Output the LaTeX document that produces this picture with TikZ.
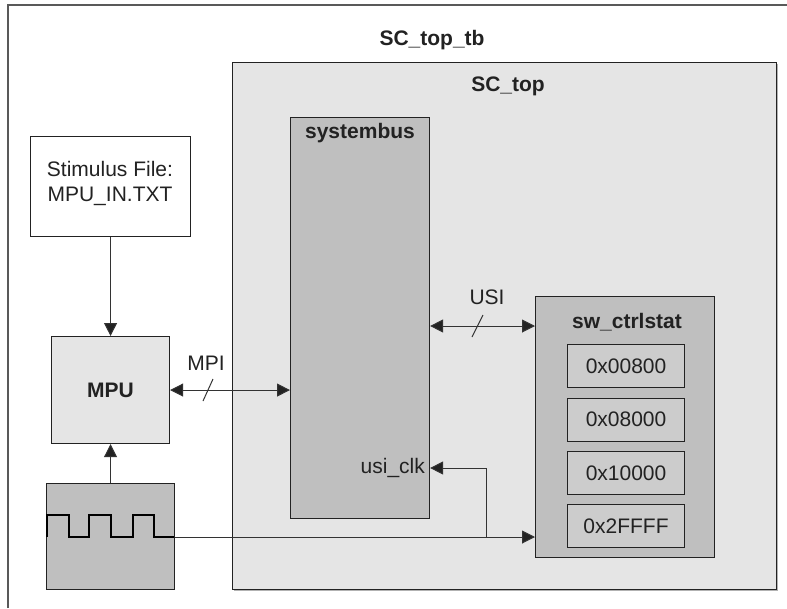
\documentclass[tikz,border=0pt]{standalone}
\usepackage{fontspec}
\setmainfont{Liberation Sans}
\usetikzlibrary{arrows.meta}
\definecolor{lightfill}{HTML}{E5E5E5}
\definecolor{midfill}{HTML}{BFBFBF}
\definecolor{regfill}{HTML}{CCCCCC}
\definecolor{ink}{HTML}{222222}
\definecolor{linec}{HTML}{333333}
\tikzset{
  box/.style={draw=ink, line width=1.1pt, inner sep=0pt, anchor=north west},
  lbl/.style={text=ink, font=\fontsize{21}{25}\selectfont, inner sep=0pt},
  blbl/.style={text=ink, font=\fontsize{21}{25}\selectfont\bfseries, inner sep=0pt},
  conn/.style={draw=linec, line width=1pt},
  tip/.tip={Triangle[length=13pt,width=13pt,fill=ink]},
  arr/.style={conn, -tip},
  darr/.style={conn, tip-tip},
  slash/.style={draw=linec, line width=1pt},
  wave/.style={draw=black, line width=2pt, line join=miter}
}
\begin{document}
\begin{tikzpicture}[x=1pt,y=-1pt]
\useasboundingbox (0,0) rectangle (787,608);
\fill[white] (0,0) rectangle (787,608);
% outer testbench frame (cropped at right and bottom)
\draw[draw=black!65, line width=1.5pt] (8,608) -- (8,5) -- (787,5);
\node[blbl] (tblabel) at (432,40) {SC\_top\_tb};
% SC_top
\draw[draw=black!30, line width=1.2pt] (234,590.5) -- (777.5,590.5) -- (777.5,64);
\node[box, fill=lightfill, minimum width=544pt, minimum height=527pt] (sctop) at (232,62) {};
\node[blbl] (sctoplabel) at (508,86) {SC\_top};
% systembus
\node[box, fill=midfill, minimum width=139pt, minimum height=401pt] (sysbus) at (290,117) {};
\node[blbl] (sysbuslabel) at (360,133) {systembus};
% stimulus file
\node[box, fill=white, minimum width=160pt, minimum height=100pt] (stim) at (30,136) {};
\node[lbl, align=center] (stimtext) at (110,183) {Stimulus File:\\MPU\_IN.TXT};
% MPU
\node[box, fill=lightfill, minimum width=118pt, minimum height=107pt] (mpu) at (51,336) {};
\node[blbl] (mputext) at (mpu.center) {MPU};
% clock
\node[box, fill=midfill, minimum width=128pt, minimum height=106pt] (clk) at (46,483) {};
\draw[wave] (47,537) -- (47,515) -- (69,515) -- (69,537) -- (89,537) -- (89,515) -- (111,515) -- (111,537) -- (133,537) -- (133,515) -- (154,515) -- (154,537) -- (174,537);
% sw_ctrlstat
\node[box, fill=midfill, minimum width=179pt, minimum height=261pt] (sw) at (535,296) {};
\node[blbl] (swlabel) at (627,322) {sw\_ctrlstat};
\node[box, fill=regfill, minimum width=117pt, minimum height=43pt] (r1) at (567,344) {};
\node[lbl] at (r1.center) {0x00800};
\node[box, fill=regfill, minimum width=117pt, minimum height=43pt] (r2) at (567,397.5) {};
\node[lbl] at (r2.center) {0x08000};
\node[box, fill=regfill, minimum width=117pt, minimum height=43pt] (r3) at (567,451) {};
\node[lbl] at (r3.center) {0x10000};
\node[box, fill=regfill, minimum width=117pt, minimum height=43pt] (r4) at (567,504) {};
\node[lbl] at (r4.center) {0x2FFFF};
% connectors
\draw[arr] (stim.south) -- (mpu.north);
\draw[arr] (clk.north) -- (mpu.south);
\draw[darr] (mpu.east) -- (mpu.east -| sysbus.west);
\draw[slash] (203,401) -- (213,379);
\node[lbl] (mpilabel) at (206,363) {MPI};
\coordinate (usiy) at (0,326);
\draw[darr] (sysbus.east |- usiy) -- (sw.west |- usiy);
\draw[slash] (472,337) -- (483,315);
\node[lbl] (usilabel) at (487,297) {USI};
\coordinate (clky) at (0,537);
\coordinate (usiclky) at (0,468);
\coordinate (junc) at (486,537);
\draw[arr] (clk.east |- clky) -- (sw.west |- clky);
\draw[arr] (junc) -- (junc |- usiclky) -- (sysbus.east |- usiclky);
\node[lbl, anchor=east] (usiclk) at ([xshift=-5pt]sysbus.east |- usiclky) {usi\_clk};
\end{tikzpicture}
\end{document}
